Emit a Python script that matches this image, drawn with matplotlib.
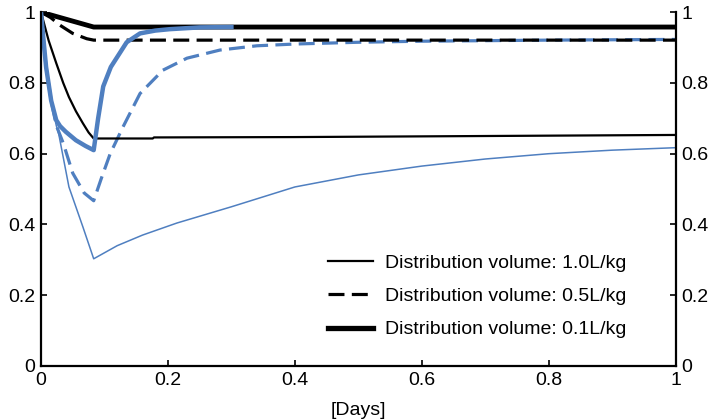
import matplotlib
matplotlib.use('Agg')
import numpy as np
import matplotlib.pyplot as plt
import matplotlib.lines as mlines

plt.rcParams['font.family'] = ['Liberation Sans', 'DejaVu Sans']

blue = '#4f7fc0'

# values
t_v10_black = [0, 0.012, 0.024, 0.035, 0.044, 0.055, 0.066, 0.075, 0.083, 0.176, 0.178, 0.4, 0.6, 0.8, 1.0]
y_v10_black = [1.0, 0.92, 0.856, 0.80, 0.76, 0.72, 0.686, 0.66, 0.643, 0.643, 0.646, 0.647, 0.649, 0.651, 0.653]

t_v10_blue = [0, 0.004, 0.008, 0.016, 0.024, 0.028, 0.044, 0.066, 0.083, 0.12, 0.16, 0.214, 0.3, 0.4, 0.5, 0.6, 0.7, 0.8, 0.9, 1.0]
y_v10_blue = [1.0, 0.92, 0.845, 0.75, 0.68, 0.655, 0.506, 0.393, 0.303, 0.34, 0.37, 0.404, 0.45, 0.506, 0.54, 0.565, 0.585, 0.60, 0.61, 0.617]

t_v05_black = [0, 0.015, 0.03, 0.05, 0.072, 0.083, 1.0]
y_v05_black = [1.0, 0.985, 0.963, 0.94, 0.925, 0.921, 0.921]

t_v05_blue = [0, 0.004, 0.008, 0.016, 0.024, 0.035, 0.05, 0.068, 0.083, 0.095, 0.109, 0.129, 0.156, 0.192, 0.23, 0.282, 0.34, 0.4, 0.5, 0.6, 0.8, 1.0]
y_v05_blue = [1.0, 0.92, 0.845, 0.75, 0.68, 0.63, 0.545, 0.489, 0.467, 0.53, 0.60, 0.675, 0.77, 0.836, 0.87, 0.893, 0.905, 0.91, 0.915, 0.918, 0.921, 0.923]

t_v01_black = [0, 0.083, 1.0]
y_v01_black = [1.0, 0.958, 0.958]

t_v01_blue = [0, 0.004, 0.008, 0.016, 0.024, 0.03, 0.039, 0.055, 0.07, 0.083, 0.09, 0.098, 0.11, 0.12, 0.135, 0.156, 0.18, 0.203, 0.25, 0.3]
y_v01_blue = [1.0, 0.92, 0.845, 0.75, 0.695, 0.678, 0.662, 0.638, 0.622, 0.61, 0.70, 0.79, 0.845, 0.873, 0.915, 0.94, 0.948, 0.952, 0.957, 0.958]

ticks = [0, 0.2, 0.4, 0.6, 0.8, 1.0]
tick_labels = ['0', '0.2', '0.4', '0.6', '0.8', '1']

fig = plt.figure(figsize=(7.12, 4.2), dpi=100)
ax = fig.add_axes([0.0576, 0.1286, 0.8914, 0.8424])

ax.plot(t_v10_blue, y_v10_blue, color=blue, lw=1.1)
ax.plot(t_v05_blue, y_v05_blue, color=blue, lw=2.3, dashes=(5, 2.3))
ax.plot(t_v10_black, y_v10_black, color='black', lw=1.6)
ax.plot(t_v05_black, y_v05_black, color='black', lw=2.3, dashes=(5, 2.3))
ax.plot(t_v01_black, y_v01_black, color='black', lw=3.5)
ax.plot(t_v01_blue, y_v01_blue, color=blue, lw=3.2)

ax.set_xlim(0, 1)
ax.set_ylim(0, 1)
ax.spines['top'].set_visible(False)
for s in ['left', 'right', 'bottom']:
    ax.spines[s].set_linewidth(1.6)
ax.set_xticks(ticks)
ax.set_xticklabels(tick_labels)
ax.set_yticks(ticks)
ax.set_yticklabels(tick_labels)
ax.tick_params(direction='in', length=4, width=1.2, labelsize=14, pad=4,
               right=True, labelright=True)
ax.set_xlabel('[Days]', fontsize=14, labelpad=9.5)

h1 = mlines.Line2D([], [], color='black', lw=1.6, label='Distribution volume: 1.0L/kg')
h2 = mlines.Line2D([], [], color='black', lw=2.3, dashes=(5, 2.3), label='Distribution volume: 0.5L/kg')
h3 = mlines.Line2D([], [], color='black', lw=3.8, label='Distribution volume: 0.1L/kg')
ax.legend(handles=[h1, h2, h3], loc='lower right', frameon=False, fontsize=14,
          handlelength=2.3, handletextpad=0.6, labelspacing=0.81, borderpad=0,
          borderaxespad=0, bbox_to_anchor=(0.922, 0.078))

fig.savefig('out.png', dpi=100)
plt.close()
